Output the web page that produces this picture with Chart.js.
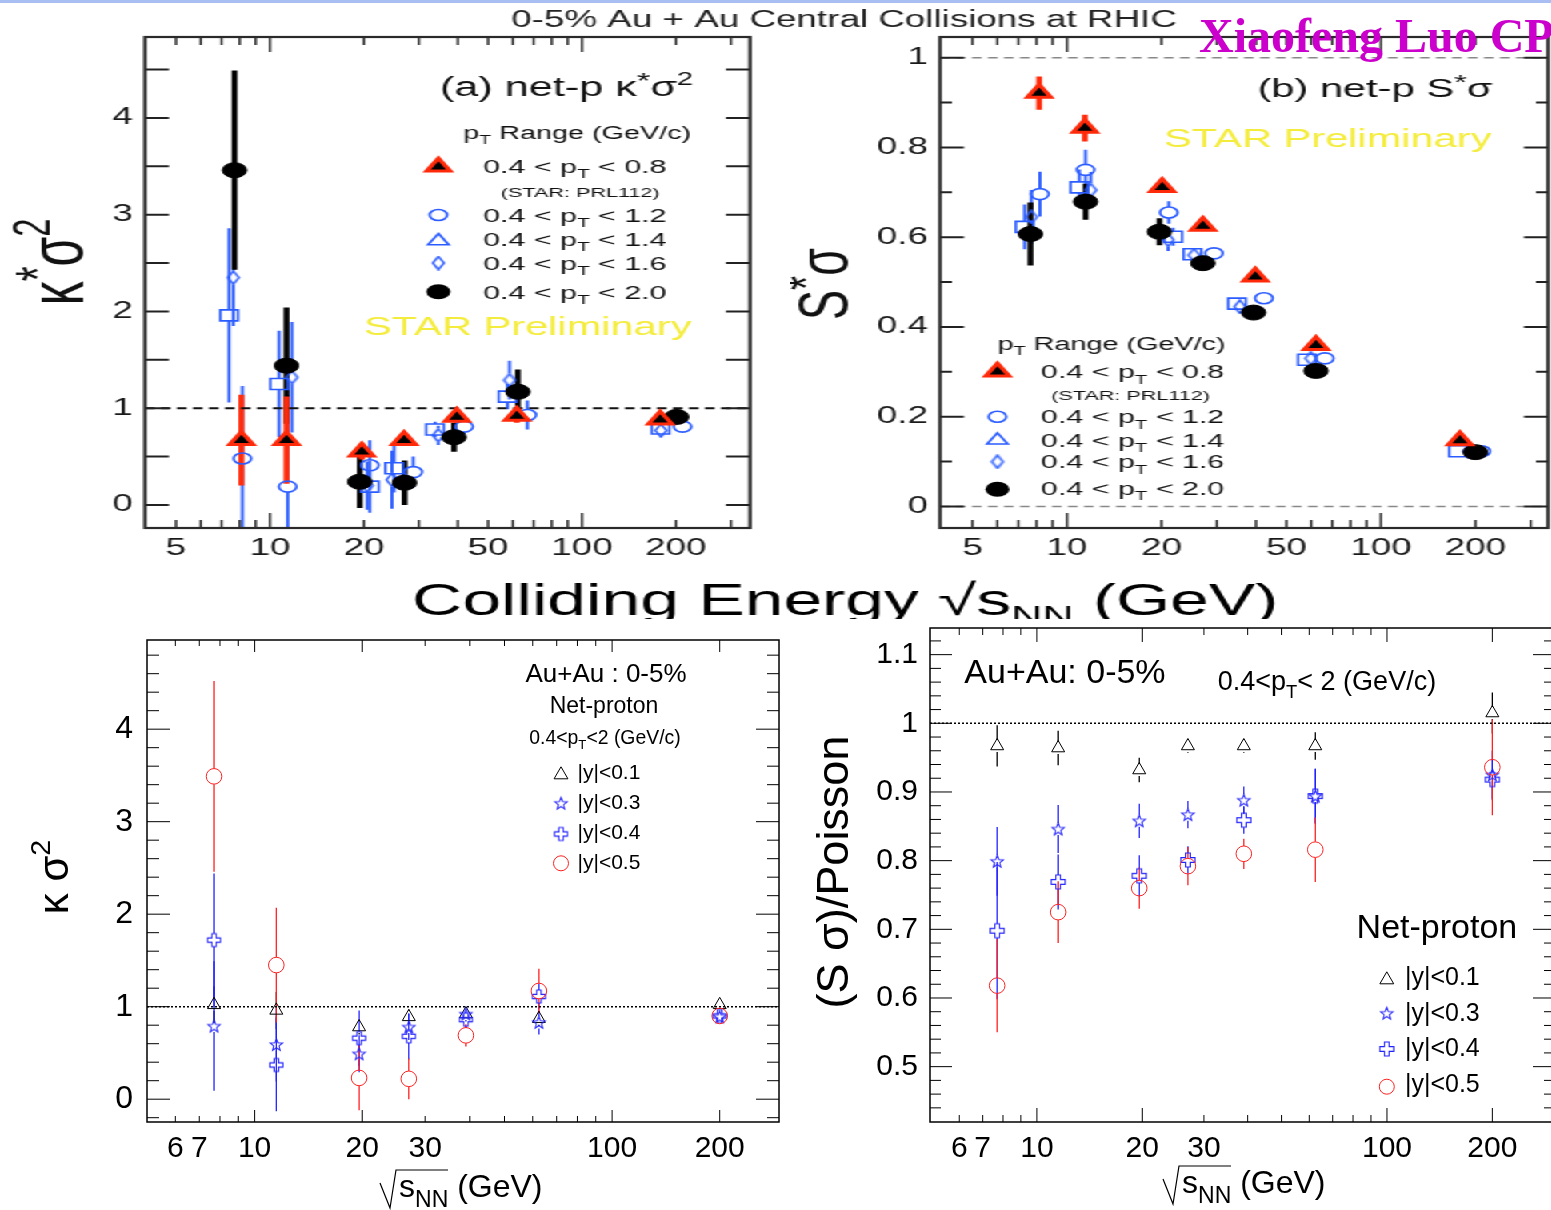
<!DOCTYPE html>
<html>
<head>
<meta charset="utf-8">
<script src="https://cdn.jsdelivr.net/npm/chart.js@4.4.1/dist/chart.umd.min.js"></script>
<style>
  html, body { margin:0; padding:0; background:#fff; overflow:hidden; }
  #page { position:relative; width:1551px; height:1210px; overflow:hidden; background:#fff; }
  #topbar { position:absolute; left:0; top:0; width:1551px; height:3px; background:#a9bff3; }
  #stretch { position:absolute; left:0; top:0; width:970px; height:625px; transform:scaleX(1.6); transform-origin:0 0; }
  canvas { position:absolute; display:block; }
</style>
</head>
<body>
<div id="page">
  <div id="stretch">
    <canvas id="cA" width="494" height="570" style="left:0;top:0;width:494px;height:570px"></canvas>
    <canvas id="cB" width="476" height="570" style="left:494px;top:0;width:476px;height:570px"></canvas>
    <canvas id="ovTop" width="970" height="625" style="left:0;top:0;width:970px;height:625px"></canvas>
  </div>
  <canvas id="cC" width="800" height="585" style="left:0;top:625px;width:800px;height:585px"></canvas>
  <canvas id="cD" width="755" height="595" style="left:800px;top:615px;width:755px;height:595px"></canvas>
  <canvas id="ovPage" width="1551" height="1210" style="left:0;top:0;width:1551px;height:1210px"></canvas>
  <div id="topbar"></div>
</div>
<script>
// ================= DATA =================
const energies = [7.7, 11.5, 19.6, 27, 39, 62.4, 200];
const topXTickLabels = [5, 10, 20, 50, 100, 200];
const aYTickLabels = [0, 1, 2, 3, 4];
const bYTickLabels = [0, 0.2, 0.4, 0.6, 0.8, 1];
const botXTickLabels = [6, 7, 10, 20, 30, 100, 200];
const cYTickLabels = [0, 1, 2, 3, 4];
const dYTickLabels = [0.5, 0.6, 0.7, 0.8, 0.9, 1, 1.1];
const ptUpper = ['0.8', '1.2', '1.4', '1.6', '2.0'];
const rapCuts = ['0.1', '0.3', '0.4', '0.5'];

// (a) net-p kappa*sigma^2 (points slightly shifted in energy for visibility)
const aX_pt08 = [8.1, 11.3, 19.7, 26.9, 39.7, 61.8, 178];
const aY_pt08 = [0.67, 0.67, 0.55, 0.67, 0.91, 0.92, 0.88];
const aE_pt08 = [0.47, 0.45, 0.08, 0.06, 0.06, 0.07, 0.04];
const aX_pt20 = [7.7, 11.3, 19.4, 27, 38.9, 62.3, 201];
const aY_pt20 = [3.46, 1.44, 0.24, 0.23, 0.70, 1.17, 0.91];
const aE_pt20 = [1.03, 0.6, 0.27, 0.23, 0.15, 0.23, 0.07];
const aX_pt12 = [8.16, 11.4, 20.9, 28.8, 41.9, 66.8, 210];
const aY_pt12 = [0.48, 0.19, 0.41, 0.34, 0.81, 0.93, 0.81];
const aE_pt12 = [0.75, 0.95, 0.26, 0.16, 0.08, 0.15, 0.04];
const aX_pt14 = [7.4, 10.7, 20.9, 25.0, 33.8, 57.7, 178.6];
const aY_pt14 = [1.96, 1.25, 0.19, 0.38, 0.78, 1.12, 0.79];
const aE_pt14 = [0.9, 0.55, 0.27, 0.25, 0.08, 0.13, 0.04];
const aX_pt16 = [7.63, 11.76, 20.5, 24.6, 34.6, 58.6, 179];
const aY_pt16 = [2.35, 1.32, 0.2, 0.26, 0.72, 1.29, 0.77];
const aE_pt16 = [0.5, 0.57, 0.25, 0.3, 0.1, 0.2, 0.04];

// (b) net-p S*sigma
const bX_pt08 = [8.15, 11.4, 20.1, 27.1, 39.8, 62.1, 178.5];
const bY_pt08 = [0.921, 0.843, 0.711, 0.625, 0.512, 0.359, 0.147];
const bE_pt08 = [0.037, 0.03, 0.012, 0.01, 0.01, 0.01, 0.008];
const bX_pt20 = [7.65, 11.46, 19.7, 27.1, 39.3, 62.1, 200];
const bY_pt20 = [0.607, 0.679, 0.612, 0.542, 0.432, 0.302, 0.121];
const bE_pt20 = [0.07, 0.04, 0.03, 0.012, 0.01, 0.01, 0.005];
const bX_pt12 = [8.2, 11.46, 21.1, 29.4, 42.4, 66.3, 209];
const bY_pt12 = [0.696, 0.75, 0.655, 0.564, 0.464, 0.33, 0.123];
const bE_pt12 = [0.05, 0.045, 0.025, 0.012, 0.01, 0.01, 0.005];
const bX_pt14 = [7.33, 10.95, 21.8, 25.1, 34.8, 58.1, 176];
const bY_pt14 = [0.623, 0.711, 0.601, 0.562, 0.452, 0.327, 0.123];
const bE_pt14 = [0.05, 0.04, 0.02, 0.01, 0.01, 0.01, 0.005];
const bX_pt16 = [7.7, 11.9, 21.0, 25.4, 35.5, 59.8, 190];
const bY_pt16 = [0.645, 0.705, 0.594, 0.56, 0.445, 0.33, 0.123];
const bE_pt16 = [0.06, 0.04, 0.025, 0.01, 0.01, 0.01, 0.005];

// (c) kappa sigma^2 vs rapidity window
const cY_y01 = [1.02, 0.96, 0.78, 0.89, 0.92, 0.87, 1.02];
const cE_y01 = [0.2, 0.2, 0.08, 0.08, 0.05, 0.08, 0.03];
const cY_y03 = [0.79, 0.59, 0.49, 0.78, 0.92, 0.83, 0.89];
const cE_y03 = [0.7, 0.4, 0.2, 0.14, 0.08, 0.13, 0.04];
const cY_y04 = [1.72, 0.37, 0.66, 0.68, 0.86, 1.11, 0.90];
const cE_y04 = [0.72, 0.5, 0.3, 0.25, 0.09, 0.14, 0.05];
const cY_y05 = [3.49, 1.45, 0.23, 0.22, 0.69, 1.17, 0.90];
const cE_y05 = [1.03, 0.62, 0.35, 0.22, 0.12, 0.24, 0.05];

// (d) (S sigma)/Poisson vs rapidity window
const dY_y01 = [0.967, 0.964, 0.932, 0.967, 0.967, 0.967, 1.015];
const dE_y01 = [0.03, 0.025, 0.018, 0.01, 0.01, 0.02, 0.03];
const dY_y03 = [0.799, 0.846, 0.858, 0.867, 0.888, 0.894, 0.925];
const dE_y03 = [0.05, 0.035, 0.025, 0.02, 0.02, 0.04, 0.035];
const dY_y04 = [0.698, 0.769, 0.778, 0.801, 0.859, 0.894, 0.918];
const dE_y04 = [0.1, 0.04, 0.03, 0.02, 0.02, 0.04, 0.03];
const dY_y05 = [0.618, 0.725, 0.76, 0.792, 0.81, 0.816, 0.936];
const dE_y05 = [0.068, 0.045, 0.03, 0.028, 0.022, 0.047, 0.07];

// ================= STYLE / HELPERS =================
const RED = '#ff2a0a', BLUE = '#2b5cff', RRED = '#ff2020', RBLUE = '#2222ff';
const FAM = 'Liberation Sans';

function steps(from, to, step) {
  const out = [];
  for (let k = Math.round(from / step); k <= Math.round(to / step); k++) out.push(+(k * step).toFixed(4));
  return out;
}
function markerCanvas(w, h, draw) {
  const c = document.createElement('canvas'); c.width = w; c.height = h;
  draw(c.getContext('2d'), w, h); return c;
}
const diamondImg = markerCanvas(10, 15, (x, w, h) => {
  x.strokeStyle = BLUE; x.lineWidth = 1.5; x.beginPath();
  x.moveTo(w / 2, 1); x.lineTo(w - 1.5, h / 2); x.lineTo(w / 2, h - 1); x.lineTo(1.5, h / 2); x.closePath(); x.stroke();
});
function crossImg(size) {
  return markerCanvas(size + 4, size + 4, (x, w, h) => {
    const cx = w / 2, cy = h / 2, L = size / 2, a = size / 6;
    x.strokeStyle = RBLUE; x.lineWidth = 1.2; x.beginPath();
    const p = [[-a,-L],[a,-L],[a,-a],[L,-a],[L,a],[a,a],[a,L],[-a,L],[-a,a],[-L,a],[-L,-a],[-a,-a]];
    p.forEach((q, i) => i ? x.lineTo(cx + q[0], cy + q[1]) : x.moveTo(cx + q[0], cy + q[1]));
    x.closePath(); x.stroke();
  });
}
function starImg(size) {
  return markerCanvas(size + 4, size + 4, (x, w, h) => {
    const cx = w / 2, cy = h / 2 + 0.5, R = size / 2, r = R * 0.42;
    x.strokeStyle = RBLUE; x.lineWidth = 1.1; x.beginPath();
    for (let i = 0; i < 10; i++) {
      const ang = -Math.PI / 2 + i * Math.PI / 5, rr = i % 2 ? r : R;
      const px = cx + rr * Math.cos(ang), py = cy + rr * Math.sin(ang);
      i ? x.lineTo(px, py) : x.moveTo(px, py);
    }
    x.closePath(); x.stroke();
  });
}
const crossC = crossImg(13), starC = starImg(13), crossD = crossImg(14), starD = starImg(13);

function rich(ctx, parts, x, y, size, opt) {
  opt = opt || {};
  const fam = opt.family || FAM, weight = opt.weight || 'normal';
  const items = parts.map(p => typeof p === 'string' ? { t: p } : p);
  const fontFor = it => `${weight} ${(it.sub || it.sup) ? size * (it.scale || 0.68) : size}px "${fam}"`;
  let total = 0;
  items.forEach(it => { ctx.font = fontFor(it); it.w = ctx.measureText(it.t).width; total += it.w; });
  let cx = x - (opt.align === 'center' ? total / 2 : opt.align === 'right' ? total : 0);
  ctx.fillStyle = opt.color || '#000'; ctx.textBaseline = 'alphabetic'; ctx.textAlign = 'left';
  items.forEach(it => {
    ctx.font = fontFor(it);
    const dy = it.sub ? size * (it.dy || 0.28) : it.sup ? -size * (it.dy || 0.42) : 0;
    ctx.fillText(it.t, cx, y + dy); cx += it.w;
  });
  return total;
}
function rotText(ctx, parts, x, y, size, opt) {
  ctx.save(); ctx.translate(x, y); ctx.rotate(-Math.PI / 2);
  rich(ctx, parts, 0, 0, size, Object.assign({ align: 'center' }, opt || {}));
  ctx.restore();
}
function triPath(ctx, x, y, r) {
  ctx.beginPath(); ctx.moveTo(x, y - r); ctx.lineTo(x + r * 0.866, y + r / 2); ctx.lineTo(x - r * 0.866, y + r / 2); ctx.closePath();
}
function legendMarker(ctx, kind, x, y) {
  ctx.save();
  if (kind === 'redTri') { triPath(ctx, x, y, 8.5); ctx.fillStyle = '#000'; ctx.fill(); ctx.strokeStyle = RED; ctx.lineWidth = 3; ctx.stroke(); }
  else if (kind === 'blackDot') { ctx.beginPath(); ctx.arc(x, y, 7.5, 0, 7); ctx.fillStyle = '#000'; ctx.fill(); }
  else if (kind === 'blueCirc') { ctx.beginPath(); ctx.arc(x, y, 5.5, 0, 7); ctx.strokeStyle = BLUE; ctx.lineWidth = 1.6; ctx.stroke(); }
  else if (kind === 'blueTri') { triPath(ctx, x, y + 1, 7.5); ctx.strokeStyle = BLUE; ctx.lineWidth = 1.6; ctx.stroke(); }
  else if (kind === 'blueDia') { ctx.drawImage(diamondImg, x - 5, y - 7.5); }
  else if (kind === 'openTri') { triPath(ctx, x, y + 1.5, 8); ctx.strokeStyle = '#000'; ctx.lineWidth = 1; ctx.stroke(); }
  else if (kind === 'redCirc') { ctx.beginPath(); ctx.arc(x, y, 7.5, 0, 7); ctx.strokeStyle = RRED; ctx.lineWidth = 1; ctx.stroke(); }
  else if (kind.img) { ctx.drawImage(kind.img, x - kind.img.width / 2, y - kind.img.height / 2); }
  ctx.restore();
}

// error bars drawn through the chart's own y scale
const errPlugin = {
  id: 'errbars',
  beforeDatasetsDraw(chart) {
    const ctx = chart.ctx, ys = chart.scales.y, a = chart.chartArea;
    ctx.save(); ctx.beginPath(); ctx.rect(a.left, a.top, a.right - a.left, a.bottom - a.top); ctx.clip();
    for (let i = chart.data.datasets.length - 1; i >= 0; i--) {
      const ds = chart.data.datasets[i], meta = chart.getDatasetMeta(i);
      ctx.strokeStyle = ds.errColor; ctx.lineWidth = ds.errWidth;
      meta.data.forEach((el, j) => {
        const v = ds.data[j].y, e = ds.err[j], g = ds.errGap || 0;
        const yT = ys.getPixelForValue(v + e), yB = ys.getPixelForValue(v - e);
        ctx.beginPath();
        if (yT < el.y - g) { ctx.moveTo(el.x, yT); ctx.lineTo(el.x, el.y - g); }
        if (yB > el.y + g) { ctx.moveTo(el.x, el.y + g); ctx.lineTo(el.x, yB); }
        ctx.stroke();
      });
    }
    ctx.restore();
  }
};

function decoPlugin(cfg) {
  return {
    id: 'deco',
    beforeDatasetsDraw(chart) {
      const { ctx, chartArea: a, scales: { y } } = chart;
      (cfg.refLines || []).forEach(r => {
        const py = y.getPixelForValue(r.y);
        ctx.save(); ctx.strokeStyle = r.color; ctx.lineWidth = r.width; ctx.setLineDash(r.dash);
        ctx.beginPath(); ctx.moveTo(a.left, py); ctx.lineTo(a.right, py); ctx.stroke(); ctx.restore();
      });
    },
    afterDraw(chart) {
      const { ctx, chartArea: a, scales: { x, y } } = chart;
      ctx.save();
      ctx.strokeStyle = cfg.tickColor;
      ctx.lineWidth = cfg.xTickWidth; ctx.beginPath();
      cfg.xTicks.forEach(v => {
        const px = x.getPixelForValue(v);
        if (px < a.left + 1 || px > a.right - 1) return;
        const L = cfg.xMajor.includes(v) ? cfg.xMajLen : cfg.xMinLen;
        ctx.moveTo(px, a.bottom); ctx.lineTo(px, a.bottom - L);
        ctx.moveTo(px, a.top); ctx.lineTo(px, a.top + L);
      });
      ctx.stroke();
      ctx.lineWidth = cfg.yTickWidth; ctx.beginPath();
      cfg.yTicks.forEach(v => {
        const py = y.getPixelForValue(v);
        if (py < a.top + 1 || py > a.bottom - 1) return;
        const L = cfg.yMajor(v) ? cfg.yMajLen : cfg.yMinLen;
        ctx.moveTo(a.left, py); ctx.lineTo(a.left + L, py);
        ctx.moveTo(a.right, py); ctx.lineTo(a.right - L, py);
      });
      ctx.stroke();
      ctx.strokeStyle = cfg.frameColor; ctx.lineWidth = cfg.frameWidth;
      ctx.strokeRect(a.left, a.top, a.right - a.left, a.bottom - a.top);
      ctx.restore();
      if (cfg.texts) cfg.texts(ctx, chart);
    }
  };
}

function zeroPad(s) { s.paddingLeft = 0; s.paddingRight = 0; s.paddingTop = 0; s.paddingBottom = 0; }
function makeChart(id, o) {
  return new Chart(document.getElementById(id).getContext('2d'), {
    type: 'scatter',
    data: { datasets: o.datasets },
    options: {
      responsive: false, animation: false, events: [],
      layout: { autoPadding: false, padding: { top: o.padTop, right: o.padRight, left: 0, bottom: 0 } },
      plugins: { legend: { display: false }, tooltip: { enabled: false } },
      scales: {
        x: {
          type: 'logarithmic', bounds: 'data', min: o.xMin, max: o.xMax,
          grid: { display: false, drawTicks: false }, border: { display: false },
          ticks: { autoSkip: false, maxRotation: 0, minRotation: 0, padding: o.xPad, color: o.tickColor,
                   font: { family: FAM, size: o.xFont }, callback: v => String(v) },
          afterBuildTicks: s => { s.ticks = o.xLabels.map(v => ({ value: v })); },
          afterFit: s => { s.height = o.xH; zeroPad(s); }
        },
        y: {
          type: 'linear', bounds: 'data', min: o.yMin, max: o.yMax,
          grid: { display: false, drawTicks: false }, border: { display: false },
          ticks: { padding: o.yPad, color: o.tickColor, font: { family: FAM, size: o.yFont }, callback: v => String(v) },
          afterBuildTicks: s => { s.ticks = o.yLabels.map(v => ({ value: v })); },
          afterFit: s => { s.width = o.yW; zeroPad(s); }
        }
      }
    },
    plugins: [errPlugin, decoPlugin(o.deco)]
  });
}
function series(label, xs, ys, es, style) {
  return Object.assign({ label, data: xs.map((x, i) => ({ x, y: ys[i] })), err: es }, style);
}

// marker styles (upper figure, drawn in unstretched units)
const sTri = { pointStyle: 'triangle', pointRadius: 8.5, pointBackgroundColor: '#000', pointBorderColor: RED, pointBorderWidth: 3, errColor: RED, errWidth: 3.6, errGap: 0 };
const sDot = { pointStyle: 'circle', pointRadius: 7.5, pointBackgroundColor: '#000', pointBorderColor: '#000', pointBorderWidth: 1, errColor: '#000', errWidth: 3.6, errGap: 0 };
const sCirc = { pointStyle: 'circle', pointRadius: 5.5, pointBackgroundColor: 'rgba(0,0,0,0)', pointBorderColor: BLUE, pointBorderWidth: 1.6, errColor: BLUE, errWidth: 1.9, errGap: 5.5 };
const sSq = { pointStyle: 'rect', pointRadius: 7.8, pointBackgroundColor: 'rgba(0,0,0,0)', pointBorderColor: BLUE, pointBorderWidth: 1.6, errColor: BLUE, errWidth: 1.9, errGap: 5.5 };
const sDia = { pointStyle: diamondImg, pointRadius: 6, errColor: BLUE, errWidth: 1.9, errGap: 7 };

// ================= (a) =================
const topXTicks = [5, 6, 7, 8, 9, 10, 20, 30, 40, 50, 60, 70, 80, 90, 100, 200, 300];
makeChart('cA', {
  padTop: 37, padRight: 25.25, xH: 42, yW: 90.6,
  xMin: 3.976, xMax: 345.4, yMin: -0.238, yMax: 4.837,
  xLabels: topXTickLabels, yLabels: aYTickLabels, xFont: 23, yFont: 23, xPad: 7, yPad: 7.5, tickColor: '#1a1a1a',
  datasets: [
    series('0.4<pT<0.8', aX_pt08, aY_pt08, aE_pt08, sTri),
    series('0.4<pT<2.0', aX_pt20, aY_pt20, aE_pt20, sDot),
    series('0.4<pT<1.2', aX_pt12, aY_pt12, aE_pt12, sCirc),
    series('0.4<pT<1.4', aX_pt14, aY_pt14, aE_pt14, sSq),
    series('0.4<pT<1.6', aX_pt16, aY_pt16, aE_pt16, sDia)
  ],
  deco: {
    tickColor: '#222', xTickWidth: 1.4, yTickWidth: 2, frameColor: '#2a2a2a', frameWidth: 2.2,
    xTicks: topXTicks, xMajor: [10, 100], xMajLen: 15, xMinLen: 8,
    yTicks: steps(0, 4.5, 0.5), yMajor: v => true, yMajLen: 15, yMinLen: 15,
    refLines: [{ y: 1, color: '#111', width: 2, dash: [6, 4] }],
    texts(ctx) {
      rich(ctx, ['(a) net-p κ', { t: '*', sup: true, dy: 0.3, scale: 0.8 }, 'σ', { t: '2', sup: true }], 275, 96, 27, { color: '#111' });
      rich(ctx, ['p', { t: 'T', sub: true }, ' Range (GeV/c)'], 289.4, 139, 18, { color: '#111' });
      const kinds = ['redTri', 'blueCirc', 'blueTri', 'blueDia', 'blackDot'];
      const my = [166.7, 215, 240, 263, 291.7], ty = [173, 222, 246, 270, 299];
      kinds.forEach((k, i) => {
        legendMarker(ctx, k, 274, my[i]);
        rich(ctx, ['0.4 < p', { t: 'T', sub: true }, ' < ' + ptUpper[i]], 302, ty[i], 19, { color: '#111' });
      });
      rich(ctx, ['(STAR: PRL112)'], 313, 197, 13.5, { color: '#111' });
      rich(ctx, ['STAR Preliminary'], 227.5, 335, 26, { color: '#f4ec3c' });
      rotText(ctx, ['κ', { t: '*', sup: true, dy: 0.3, scale: 0.8 }, 'σ', { t: '2', sup: true }], 51.5, 262, 48, { color: '#111' });
    }
  }
});

// ================= (b) =================
makeChart('cB', {
  padTop: 37, padRight: 2.5, xH: 42, yW: 93.5,
  xMin: 3.94, xMax: 340.6, yMin: -0.048, yMax: 1.046,
  xLabels: topXTickLabels, yLabels: bYTickLabels, xFont: 23, yFont: 23, xPad: 7, yPad: 7.5, tickColor: '#1a1a1a',
  datasets: [
    series('0.4<pT<0.8', bX_pt08, bY_pt08, bE_pt08, sTri),
    series('0.4<pT<2.0', bX_pt20, bY_pt20, bE_pt20, sDot),
    series('0.4<pT<1.2', bX_pt12, bY_pt12, bE_pt12, sCirc),
    series('0.4<pT<1.4', bX_pt14, bY_pt14, bE_pt14, sSq),
    series('0.4<pT<1.6', bX_pt16, bY_pt16, bE_pt16, sDia)
  ],
  deco: {
    tickColor: '#222', xTickWidth: 1.4, yTickWidth: 2, frameColor: '#2a2a2a', frameWidth: 2.2,
    xTicks: topXTicks, xMajor: [10, 100], xMajLen: 15, xMinLen: 8,
    yTicks: steps(0, 1, 0.1), yMajor: v => Math.round(v * 10) % 2 === 0, yMajLen: 15, yMinLen: 7.5,
    refLines: [{ y: 1, color: '#888', width: 1.5, dash: [6, 4] }, { y: 0, color: '#888', width: 1.5, dash: [6, 4] }],
    texts(ctx) {
      rich(ctx, ['(b) net-p S', { t: '*', sup: true, dy: 0.3, scale: 0.8 }, 'σ'], 291.9, 97, 26, { color: '#111' });
      rich(ctx, ['STAR Preliminary'], 233.5, 147, 26, { color: '#f4ec3c' });
      rich(ctx, ['p', { t: 'T', sub: true }, ' Range (GeV/c)'], 129.4, 350, 18, { color: '#111' });
      const kinds = ['redTri', 'blueCirc', 'blueTri', 'blueDia', 'blackDot'];
      const my = [371.7, 416.7, 439.3, 461.7, 489.3], ty = [378.3, 423.3, 446.7, 468.3, 495];
      kinds.forEach((k, i) => {
        legendMarker(ctx, k, 129.4, my[i]);
        rich(ctx, ['0.4 < p', { t: 'T', sub: true }, ' < ' + ptUpper[i]], 156.6, ty[i], 19, { color: '#111' });
      });
      rich(ctx, ['(STAR: PRL112)'], 163, 400, 13.5, { color: '#111' });
      rotText(ctx, ['S', { t: '*', sup: true, dy: 0.3, scale: 0.8 }, 'σ'], 36, 284, 45, { color: '#111' });
    }
  }
});

// ================= (c) =================
const botXTicks = [6, 7, 8, 9, 10, 20, 30, 40, 50, 60, 70, 80, 90, 100, 200, 300];
const oTri = { pointStyle: 'triangle', pointRadius: 7.5, pointBackgroundColor: 'rgba(0,0,0,0)', pointBorderColor: '#000', pointBorderWidth: 1, errColor: '#000', errWidth: 1.3, errGap: 6 };
const oCirc = { pointStyle: 'circle', pointRadius: 7.8, pointBackgroundColor: 'rgba(0,0,0,0)', pointBorderColor: RRED, pointBorderWidth: 1, errColor: RRED, errWidth: 1.3, errGap: 7.8 };
makeChart('cC', {
  padTop: 15, padRight: 21, xH: 88, yW: 147,
  xMin: 5.0, xMax: 293, yMin: -0.2465, yMax: 4.964,
  xLabels: botXTickLabels, yLabels: cYTickLabels, xFont: 30, yFont: 32, xPad: 9, yPad: 14, tickColor: '#000',
  datasets: [
    series('|y|<0.5', energies, cY_y05, cE_y05, oCirc),
    series('|y|<0.4', energies, cY_y04, cE_y04, { pointStyle: crossC, pointRadius: 6, errColor: RBLUE, errWidth: 1.3, errGap: 6.5 }),
    series('|y|<0.3', energies, cY_y03, cE_y03, { pointStyle: starC, pointRadius: 6, errColor: RBLUE, errWidth: 1.3, errGap: 6 }),
    series('|y|<0.1', energies, cY_y01, cE_y01, oTri)
  ],
  deco: {
    tickColor: '#000', xTickWidth: 1, yTickWidth: 1, frameColor: '#000', frameWidth: 1.5,
    xTicks: botXTicks, xMajor: [10, 20, 100, 200], xMajLen: 12, xMinLen: 6,
    yTicks: steps(-0.2, 4.8, 0.2), yMajor: v => Math.abs(v - Math.round(v)) < 1e-6, yMajLen: 23, yMinLen: 12,
    refLines: [{ y: 1, color: '#000', width: 1.5, dash: [2, 2] }],
    texts(ctx) {
      rich(ctx, ['Au+Au : 0-5%'], 606, 57, 26, { align: 'center' });
      rich(ctx, ['Net-proton'], 604, 88, 23, { align: 'center' });
      rich(ctx, ['0.4<p', { t: 'T', sub: true }, '<2 (GeV/c)'], 605, 119, 19.4, { align: 'center' });
      const kinds = ['openTri', { img: starC }, { img: crossC }, 'redCirc'];
      const my = [148.3, 178.3, 209, 238.3], ty = [154, 184, 214, 243.5];
      kinds.forEach((k, i) => {
        legendMarker(ctx, k, 561, my[i]);
        rich(ctx, ['|y|<' + rapCuts[i]], 577.5, ty[i], 21);
      });
      rotText(ctx, ['κ σ', { t: '2', sup: true }], 68, 252, 42);
      // x title with radical
      ctx.save(); ctx.strokeStyle = '#000'; ctx.lineWidth = 1.2; ctx.beginPath();
      ctx.moveTo(380, 558); ctx.lineTo(390, 583); ctx.lineTo(396, 545); ctx.lineTo(448, 545); ctx.stroke(); ctx.restore();
      rich(ctx, ['s', { t: 'NN', sub: true, scale: 0.72, dy: 0.3 }, ' (GeV)'], 399, 572, 32);
    }
  }
});

// ================= (d) =================
makeChart('cD', {
  padTop: 13, padRight: 0, xH: 88, yW: 130,
  xMin: 4.95, xMax: 302, yMin: 0.4194, yMax: 1.1388,
  xLabels: botXTickLabels, yLabels: dYTickLabels, xFont: 30, yFont: 30, xPad: 9, yPad: 12, tickColor: '#000',
  datasets: [
    series('|y|<0.5', energies, dY_y05, dE_y05, oCirc),
    series('|y|<0.4', energies, dY_y04, dE_y04, { pointStyle: crossD, pointRadius: 6, errColor: RBLUE, errWidth: 1.3, errGap: 7 }),
    series('|y|<0.3', energies, dY_y03, dE_y03, { pointStyle: starD, pointRadius: 6, errColor: RBLUE, errWidth: 1.3, errGap: 6 }),
    series('|y|<0.1', energies, dY_y01, dE_y01, oTri)
  ],
  deco: {
    tickColor: '#000', xTickWidth: 1, yTickWidth: 1, frameColor: '#000', frameWidth: 1.5,
    xTicks: botXTicks, xMajor: [10, 20, 100, 200], xMajLen: 14, xMinLen: 7,
    yTicks: steps(0.44, 1.12, 0.02), yMajor: v => Math.round(v * 100) % 10 === 0, yMajLen: 22, yMinLen: 11,
    refLines: [{ y: 1, color: '#000', width: 1.5, dash: [2, 2] }],
    texts(ctx) {
      rich(ctx, ['Au+Au: 0-5%'], 164.3, 67.7, 34);
      rich(ctx, ['0.4<p', { t: 'T', sub: true }, '< 2 (GeV/c)'], 417.8, 75, 27);
      rich(ctx, ['Net-proton'], 556.6, 323.3, 34);
      const kinds = ['openTri', { img: starD }, { img: crossD }, 'redCirc'];
      const my = [363.3, 398.3, 434, 471.7], ty = [369.7, 405.7, 440.5, 476.5];
      kinds.forEach((k, i) => {
        legendMarker(ctx, k, 586.8, my[i]);
        rich(ctx, ['|y|<' + rapCuts[i]], 604.9, ty[i], 25);
      });
      rotText(ctx, ['(S σ)/Poisson'], 48, 257, 45);
      ctx.save(); ctx.strokeStyle = '#000'; ctx.lineWidth = 1.2; ctx.beginPath();
      ctx.moveTo(363, 564); ctx.lineTo(373, 589); ctx.lineTo(379, 551); ctx.lineTo(431, 551); ctx.stroke(); ctx.restore();
      rich(ctx, ['s', { t: 'NN', sub: true, scale: 0.72, dy: 0.3 }, ' (GeV)'], 382, 578, 32);
    }
  }
});

// ================= overlays =================
(function () {
  const c = document.getElementById('ovTop').getContext('2d');
  rich(c, ['0-5% Au + Au Central Collisions at RHIC'], 527.5, 27, 23, { align: 'center', color: '#222' });
  c.save(); c.beginPath(); c.rect(0, 560, 970, 59); c.clip();
  rich(c, ['Colliding Energy √s', { t: 'NN', sub: true, scale: 0.62, dy: 0.22 }, ' (GeV)'], 257.5, 615, 43.5, { color: '#000' });
  c.restore();
  const p = document.getElementById('ovPage').getContext('2d');
  rich(p, ['Xiaofeng Luo CP'], 1199, 52, 48, { family: 'Liberation Serif', weight: 'bold', color: '#cc00cc' });
})();
</script>
</body>
</html>
